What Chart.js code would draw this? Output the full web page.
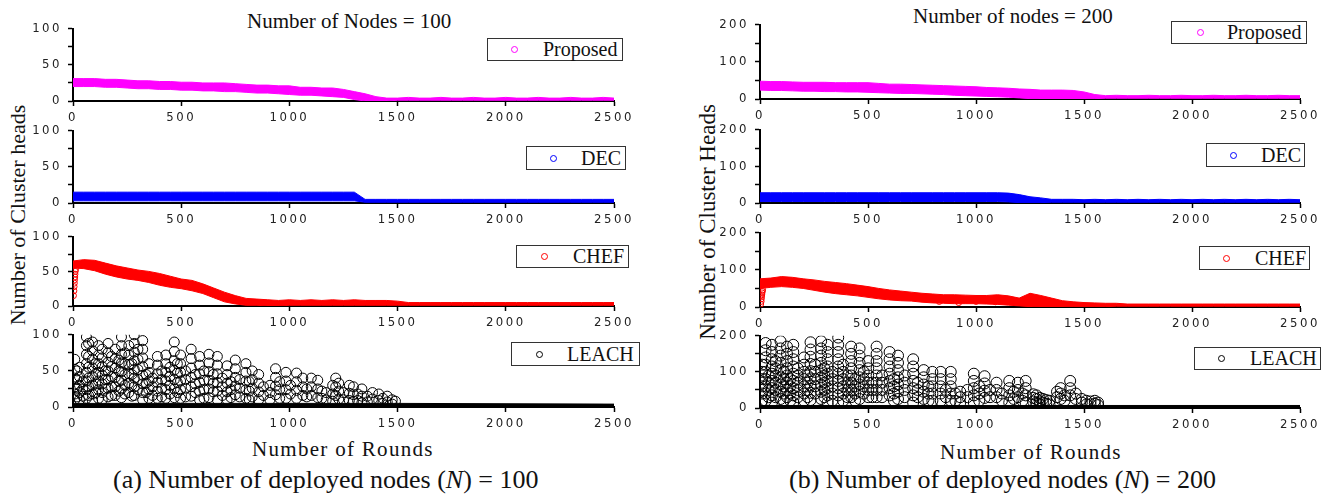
<!DOCTYPE html>
<html>
<head>
<meta charset="utf-8">
<title>Number of Cluster heads vs rounds</title>
<script src="https://cdn.jsdelivr.net/npm/chart.js@4/dist/chart.umd.min.js"></script>
<style>
  html, body { margin: 0; padding: 0; background: #fff; }
  #page { position: relative; width: 1328px; height: 501px; overflow: hidden;
          font-family: 'Liberation Serif', 'Times New Roman', serif; color: #111; }
  #page canvas { position: absolute; }
  .txt { position: absolute; line-height: 1; white-space: nowrap; }
  .ylab { position: absolute; line-height: 1; white-space: nowrap;
          transform: translate(-50%, -50%) rotate(-90deg); }
  .lg { position: absolute; box-sizing: border-box; border: 1px solid #333; background: #fff; }
  .lg .mk { position: absolute; width: 7px; height: 7px; box-sizing: border-box;
            border: 1.5px solid; border-radius: 50%; }
  .lg .lt { position: absolute; font-size: 20px; line-height: 1; white-space: nowrap; }
</style>
</head>
<body>
<div id="page">
  <div class="txt" style="left:247px;top:11px;font-size:21px">Number of Nodes = 100</div>
  <div class="txt" style="left:913px;top:6px;font-size:21px">Number of nodes = 200</div>

  <div class="ylab" style="left:17.6px;top:215px;font-size:22px">Number of Cluster heads</div>
  <div class="ylab" style="left:707px;top:222px;font-size:23px">Number of Cluster Heads</div>

  <div class="txt" style="left:252px;top:439px;font-size:21px;letter-spacing:1.3px">Number of Rounds</div>
  <div class="txt" style="left:940px;top:442px;font-size:21px;letter-spacing:1.3px">Number of Rounds</div>

  <div class="txt" style="left:113px;top:467px;font-size:26px">(a) Number of deployed nodes (<i>N</i>) = 100</div>
  <div class="txt" style="left:789px;top:467px;font-size:26px">(b) Number of deployed nodes (<i>N</i>) = 200</div>
</div>

<script>
/* ── DATA ─────────────────────────────────────────────── */
// band samples every 50 rounds (0 … 2500)
const rounds = [
  0, 50, 100, 150, 200, 250, 300, 350, 400, 450,
  500, 550, 600, 650, 700, 750, 800, 850, 900, 950,
  1000, 1050, 1100, 1150, 1200, 1250, 1300, 1350, 1400, 1450,
  1500, 1550, 1600, 1650, 1700, 1750, 1800, 1850, 1900, 1950,
  2000, 2050, 2100, 2150, 2200, 2250, 2300, 2350, 2400, 2450,
  2500
];

// N = 100
const prop100Hi = [
  31, 31, 31, 30, 30, 29, 28, 28, 27, 27,
  26, 26, 25, 25, 25, 24, 23, 22, 22, 21,
  21, 19, 19, 18, 18, 16, 13, 10, 6, 4,
  4, 5, 4, 4, 5, 4, 4, 5, 4, 4,
  5, 4, 4, 5, 4, 4, 5, 4, 4, 5,
  4
];
const prop100Lo = [
  20, 20, 20, 19, 19, 18, 17, 17, 16, 16,
  15, 15, 14, 14, 13, 13, 12, 11, 11, 10,
  9, 8, 8, 7, 6, 5, 2, 0, 0, 0,
  1, 1, 1, 1, 1, 1, 1, 1, 1, 1,
  1, 1, 1, 1, 1, 1, 1, 1, 1, 1,
  1
];
const dec100Hi = [
  15, 15, 15, 15, 15, 15, 15, 15, 15, 15,
  15, 15, 15, 15, 15, 15, 15, 15, 15, 15,
  15, 15, 15, 15, 15, 15, 15, 5, 5, 5,
  5, 5, 5, 5, 5, 5, 5, 5, 5, 5,
  5, 5, 5, 5, 5, 5, 5, 5, 5, 5,
  5
];
const dec100Lo = [
  3, 3, 3, 3, 3, 3, 3, 3, 3, 3,
  3, 3, 3, 3, 3, 3, 3, 3, 3, 3,
  3, 3, 3, 3, 3, 3, 3, 1, 1, 1,
  1, 1, 1, 1, 1, 1, 1, 1, 1, 1,
  1, 1, 1, 1, 1, 1, 1, 1, 1, 1,
  1
];
const chef100Hi = [
  65, 67, 66, 62, 58, 55, 52, 50, 47, 43,
  39, 37, 32, 26, 20, 15, 11, 10, 9, 8,
  9, 8, 9, 8, 9, 8, 9, 8, 8, 8,
  7, 5, 5, 5, 5, 5, 5, 5, 5, 5,
  5, 5, 5, 5, 5, 5, 5, 5, 5, 5,
  5
];
const chef100Lo = [
  55, 54, 51, 46, 42, 39, 37, 34, 30, 27,
  25, 22, 18, 12, 6, 3, 1, 1, 0, 0,
  1, 1, 1, 1, 1, 1, 1, 1, 1, 1,
  1, 1, 1, 1, 1, 1, 1, 1, 1, 1,
  1, 1, 1, 1, 1, 1, 1, 1, 1, 1,
  1
];
// start-up ramp of CHEF (single symbols)
const chef100RampX = [2, 4, 5, 6, 7, 8, 9, 10, 12];
const chef100RampY = [15, 22, 28, 33, 38, 42, 46, 50, 53];
// dense LEACH floor
const leach100BandX  = [0, 1500, 2500];
const leach100BandHi = [5, 5, 4];
const leach100BandLo = [0, 0, 0];
// LEACH symbols: [round, values...]
const leach100Cols = [
  [8, 66, 52, 40, 28, 18, 10], [18, 50, 38, 26, 14], [30, 55, 42, 30, 20, 10], [45, 35, 25, 15],
  [62, 97, 85, 73, 60, 48, 36, 24, 12], [72, 88, 70, 55, 40, 28, 16],
  [90, 90, 78, 66, 54, 42, 30, 18, 8], [105, 60, 45, 32, 20],
  [118, 85, 72, 60, 48, 36, 24, 12], [135, 80, 68, 56, 44, 32, 20, 10], [150, 50, 38, 25],
  [162, 88, 75, 62, 50, 38, 26, 14], [178, 70, 56, 42, 28, 16], [195, 80, 67, 54, 41, 28, 16],
  [212, 65, 50, 36, 22], [224, 97, 85, 73, 61, 49, 37, 25, 13], [240, 75, 60, 45, 30, 18],
  [258, 85, 72, 59, 46, 33, 20], [272, 60, 45, 30, 15], [283, 100, 88, 76, 64, 52, 40, 28, 16],
  [300, 80, 66, 52, 38, 24], [322, 92, 80, 68, 56, 44, 32, 20, 10], [338, 45, 33, 20],
  [351, 60, 48, 36, 24, 12], [368, 40, 28, 16], [390, 70, 58, 46, 34, 22, 12], [410, 50, 38, 26, 14],
  [429, 72, 60, 48, 36, 24, 12], [448, 55, 42, 30, 18], [468, 90, 77, 64, 51, 38, 25, 13],
  [482, 60, 47, 34, 20], [497, 72, 60, 48, 36, 24, 12], [520, 50, 38, 26, 14],
  [546, 80, 67, 54, 41, 28, 15], [565, 45, 32, 20], [585, 70, 58, 46, 34, 22, 10],
  [605, 50, 37, 24, 12], [628, 73, 61, 49, 37, 25, 13], [648, 45, 33, 21],
  [667, 70, 58, 46, 34, 22, 10], [690, 40, 28, 16], [712, 57, 45, 33, 21, 10], [730, 35, 24, 13],
  [750, 65, 53, 41, 29, 17], [770, 38, 26, 14], [799, 60, 48, 36, 24, 12], [815, 35, 22, 10],
  [828, 50, 38, 26, 14], [858, 45, 33, 21, 10], [880, 28, 16], [910, 30, 20, 10],
  [936, 53, 41, 29, 17], [955, 35, 24, 12], [984, 48, 36, 24, 12], [1005, 30, 18],
  [1033, 47, 35, 23, 12], [1062, 40, 28, 16], [1080, 25, 14], [1101, 40, 28, 16],
  [1131, 37, 25, 13], [1150, 22, 12], [1170, 20, 10], [1200, 30, 18, 8], [1214, 40, 28, 16],
  [1228, 33, 22, 11], [1250, 20, 10], [1277, 30, 19, 9], [1296, 28, 17, 8], [1315, 18, 9],
  [1335, 25, 15, 6], [1360, 15, 7], [1384, 20, 11], [1413, 18, 9], [1432, 12, 5],
  [1452, 15, 7], [1475, 10, 4], [1490, 8]
];

// N = 200
const prop200Hi = [
  48, 47, 47, 46, 45, 45, 45, 44, 44, 44,
  44, 42, 40, 40, 39, 38, 37, 36, 35, 34,
  33, 31, 30, 29, 27, 26, 24, 24, 24, 23,
  19, 12, 9, 10, 9, 9, 10, 9, 9, 10,
  9, 9, 10, 9, 9, 10, 9, 9, 10, 9,
  9
];
const prop200Lo = [
  24, 23, 23, 22, 21, 21, 20, 20, 19, 19,
  18, 17, 16, 15, 15, 14, 13, 12, 10, 9,
  8, 7, 6, 5, 3, 1, 0, 0, 0, 0,
  0, 1, 2, 2, 2, 2, 2, 2, 2, 2,
  2, 2, 2, 2, 2, 2, 2, 2, 2, 2,
  2
];
const dec200Hi = [
  28, 28, 28, 28, 28, 28, 28, 28, 28, 28,
  28, 28, 28, 28, 28, 28, 28, 28, 28, 28,
  28, 28, 28, 27, 23, 17, 14, 10, 10, 10,
  9, 10, 9, 10, 9, 10, 9, 10, 9, 10,
  9, 10, 9, 10, 9, 10, 9, 10, 9, 10,
  9
];
const dec200Lo = [
  4, 4, 4, 4, 4, 4, 4, 4, 4, 4,
  4, 4, 4, 4, 4, 4, 4, 4, 4, 4,
  4, 4, 4, 3, 1, 1, 1, 2, 2, 2,
  2, 2, 2, 2, 2, 2, 2, 2, 2, 2,
  2, 2, 2, 2, 2, 2, 2, 2, 2, 2,
  2
];
const chef200Hi = [
  76, 78, 82, 80, 76, 73, 69, 66, 63, 59,
  55, 50, 46, 43, 40, 37, 35, 33, 33, 32,
  31, 31, 33, 30, 24, 37, 31, 24, 17, 14,
  12, 11, 10, 10, 8, 8, 8, 8, 8, 8,
  8, 8, 8, 8, 8, 8, 8, 8, 8, 8,
  8
];
const chef200Lo = [
  50, 53, 55, 53, 50, 45, 40, 36, 33, 30,
  26, 22, 19, 17, 16, 13, 11, 10, 9, 9,
  9, 8, 7, 5, 3, 1, 0, 0, 0, 1,
  1, 1, 1, 2, 2, 2, 2, 2, 2, 2,
  2, 2, 2, 2, 2, 2, 2, 2, 2, 2,
  2
];
const chef200RampX = [3, 5, 6, 7, 8, 9, 10, 12, 830, 920, 1000, 1090, 1250];
const chef200RampY = [8, 15, 22, 28, 33, 38, 42, 46, 15, 12, 15, 14, 8];
const leach200BandX  = [0, 1570, 2500];
const leach200BandHi = [7, 7, 7];
const leach200BandLo = [0, 0, 0];
const leach200Cols = [
  [10, 120, 100, 80, 60, 40, 20], [26, 180, 160, 140, 120, 100, 80, 60, 40, 20], [40, 90, 70, 50, 30],
  [55, 175, 155, 135, 115, 95, 75, 55, 35, 15], [72, 130, 110, 90, 70, 50, 30],
  [95, 185, 165, 145, 125, 105, 85, 65, 45, 25], [110, 100, 80, 60, 40, 20],
  [125, 170, 150, 130, 110, 90, 70, 50, 30], [140, 80, 60, 40, 20],
  [154, 175, 155, 135, 115, 95, 75, 55, 35, 15], [175, 110, 90, 70, 50, 30],
  [204, 140, 120, 100, 80, 60, 40, 20], [220, 90, 70, 50, 30],
  [234, 182, 162, 142, 122, 102, 82, 62, 42, 22], [255, 120, 100, 80, 60, 40],
  [283, 185, 165, 145, 125, 105, 85, 65, 45, 25], [298, 110, 90, 70, 50, 30],
  [313, 175, 155, 135, 115, 95, 75, 55, 35, 15], [335, 100, 80, 60, 40, 20],
  [362, 195, 175, 155, 135, 115, 95, 75, 55, 35, 15], [385, 120, 100, 80, 60, 40, 20],
  [405, 90, 70, 50, 30], [422, 170, 150, 130, 110, 90, 70, 50, 30], [440, 80, 60, 40, 20],
  [461, 165, 145, 125, 105, 85, 65, 45, 25], [480, 100, 80, 60, 40],
  [501, 130, 110, 90, 70, 50, 30], [520, 70, 50, 30], [540, 170, 150, 130, 110, 90, 70, 50, 30],
  [565, 90, 70, 50, 30], [600, 155, 135, 115, 95, 75, 55, 35], [620, 80, 60, 40, 20],
  [639, 145, 125, 105, 85, 65, 45, 25], [670, 90, 70, 50, 30],
  [709, 135, 115, 95, 75, 55, 35, 15], [730, 70, 50, 30], [758, 105, 85, 65, 45, 25],
  [780, 60, 40, 20], [798, 100, 80, 60, 40, 20], [837, 100, 80, 60, 40, 20], [860, 50, 30],
  [883, 100, 80, 60, 40, 20], [905, 40, 20], [927, 45, 30, 15], [960, 50, 30],
  [990, 95, 75, 55, 35, 15], [1015, 60, 40, 20], [1040, 88, 68, 48, 28], [1065, 50, 30],
  [1095, 70, 50, 30], [1120, 40, 20], [1154, 75, 55, 35, 15], [1175, 45, 25],
  [1194, 70, 50, 30], [1215, 40, 20], [1230, 75, 55, 35, 15], [1265, 38, 28, 18],
  [1280, 35, 25, 15], [1295, 28, 18, 10], [1310, 25, 15], [1325, 22, 12], [1340, 20, 10],
  [1375, 45, 30], [1392, 55, 40, 25], [1410, 35, 20], [1436, 75, 55, 35], [1462, 40, 25],
  [1490, 25, 15], [1511, 20, 10], [1530, 18, 10], [1550, 20, 12], [1565, 15, 8]
];

const xTicks = [0, 500, 1000, 1500, 2000, 2500];

/* ── COLOURS / FONTS ──────────────────────────────────── */
const C_PROP  = "#ff00ff";
const C_DEC   = "#0000ff";
const C_CHEF  = "#ff0000";
const C_LEACH = "#000000";
const TICK_FONT = "'Liberation Sans Narrow', 'DejaVu Sans Condensed', 'Arial Narrow', Arial, sans-serif";

/* ── LAYOUT (plot areas in page pixels) ───────────────── */
const panels = {
  left:  { x0: 73,  x1: 614,  rows: [[25, 101], [127, 203], [233, 306], [331, 407]], yMax: 100, yStep: 25, yLabelStep: 50 },
  right: { x0: 760, x1: 1300, rows: [[21, 99],  [126, 203], [229, 307], [332, 408]], yMax: 200, yStep: 50, yLabelStep: 100 }
};
const Y_W = 70, X_H = 26, PAD_T = 10, PAD_R = 30;

/* ── HELPERS ──────────────────────────────────────────── */
function xy(xs, ys) {
  return xs.map((x, i) => ({ x, y: ys[i] }));
}

function band(xs, lo, hi, color) {
  return [
    { data: xy(xs, lo), borderColor: color, borderWidth: 1, pointRadius: 0, fill: false },
    { data: xy(xs, hi), borderColor: color, borderWidth: 1, pointRadius: 0, fill: "-1", backgroundColor: color }
  ];
}

function dots(points, color, r) {
  return {
    data: points, showLine: false, pointRadius: r, pointBorderWidth: 1,
    pointBorderColor: color, pointBackgroundColor: "rgba(0,0,0,0)"
  };
}

function colPoints(cols) {
  const pts = [];
  cols.forEach(c => c.slice(1).forEach(v => pts.push({ x: c[0], y: v })));
  return pts;
}

// canvas text letter spacing (the tick numerals are spaced out)
const spacing = {
  id: "spacing",
  beforeDraw(chart) { chart.ctx.letterSpacing = "2.5px"; }
};

function makeChart(panel, row, datasets) {
  const [top, bottom] = panel.rows[row];
  const cx = panel.x0 - Y_W;
  const cy = top - PAD_T;
  const cw = panel.x1 + PAD_R - cx;
  const ch = bottom + X_H - cy;

  const cv = document.createElement("canvas");
  cv.width = cw; cv.height = ch;
  cv.style.left = cx + "px"; cv.style.top = cy + "px";
  cv.style.width = cw + "px"; cv.style.height = ch + "px";
  document.getElementById("page").appendChild(cv);

  const tickStyle = { color: "#222", font: { family: TICK_FONT, size: 13 } };
  return new Chart(cv.getContext("2d"), {
    type: "line",
    data: { datasets },
    plugins: [spacing],
    options: {
      responsive: false,
      animation: false,
      events: [],
      layout: { autoPadding: false, padding: { top: PAD_T, right: PAD_R, left: 0, bottom: 0 } },
      elements: { line: { tension: 0 } },
      plugins: { legend: { display: false }, tooltip: { enabled: false }, title: { display: false } },
      scales: {
        x: {
          type: "linear", min: 0, max: 2500,
          afterBuildTicks: s => { s.ticks = xTicks.map(v => ({ value: v })); },
          afterFit: s => { s.height = X_H; },
          border: { display: true, color: "#000", width: 2 },
          grid: { drawOnChartArea: false, drawTicks: true, tickLength: 5, color: "#000", tickWidth: 1.5 },
          ticks: { ...tickStyle, padding: 4, maxRotation: 0, autoSkip: false, callback: v => String(v) }
        },
        y: {
          min: 0, max: panel.yMax,
          afterFit: s => { s.width = Y_W; },
          border: { display: true, color: "#000", width: 2 },
          grid: { drawOnChartArea: false, drawTicks: true, tickLength: 5, color: "#000", tickWidth: 1.5 },
          ticks: {
            ...tickStyle, padding: 6, stepSize: panel.yStep, autoSkip: false,
            callback: v => (v % panel.yLabelStep === 0 ? String(v) : "")
          }
        }
      }
    }
  });
}

function addLegend(x1, y1, x2, y2, mx, tx, label, color) {
  const box = document.createElement("div");
  box.className = "lg";
  Object.assign(box.style, { left: x1 + "px", top: y1 + "px", width: (x2 - x1) + "px", height: (y2 - y1) + "px" });
  const mid = (y2 - y1) / 2;
  box.innerHTML =
    `<span class="mk" style="left:${mx - x1 - 4.5}px;top:${mid - 4.5}px;border-color:${color}"></span>` +
    `<span class="lt" style="left:${tx - x1 - 1}px;top:${(y2 - 5 - y1) - 16.75 - 1}px">${label}</span>`;
  document.getElementById("page").appendChild(box);
}

/* ── BUILD ────────────────────────────────────────────── */
const L = panels.left, R = panels.right;

makeChart(L, 0, band(rounds, prop100Lo, prop100Hi, C_PROP));
makeChart(L, 1, band(rounds, dec100Lo, dec100Hi, C_DEC));
makeChart(L, 2, [...band(rounds, chef100Lo, chef100Hi, C_CHEF), dots(xy(chef100RampX, chef100RampY), C_CHEF, 3)]);
makeChart(L, 3, [...band(leach100BandX, leach100BandLo, leach100BandHi, C_LEACH), dots(colPoints(leach100Cols), C_LEACH, 5)]);

makeChart(R, 0, band(rounds, prop200Lo, prop200Hi, C_PROP));
makeChart(R, 1, band(rounds, dec200Lo, dec200Hi, C_DEC));
makeChart(R, 2, [...band(rounds, chef200Lo, chef200Hi, C_CHEF), dots(xy(chef200RampX, chef200RampY), C_CHEF, 3)]);
makeChart(R, 3, [...band(leach200BandX, leach200BandLo, leach200BandHi, C_LEACH), dots(colPoints(leach200Cols), C_LEACH, 5.5)]);

addLegend(487, 38, 623, 61, 514, 543, "Proposed", C_PROP);
addLegend(526, 146, 626, 170, 553, 581, "DEC", C_DEC);
addLegend(516, 245, 629, 268, 544, 573, "CHEF", C_CHEF);
addLegend(511, 342, 640, 366, 539, 567, "LEACH", C_LEACH);

addLegend(1171, 21, 1307, 44, 1200, 1227, "Proposed", C_PROP);
addLegend(1206, 143, 1305, 167, 1233, 1261, "DEC", C_DEC);
addLegend(1199, 246, 1310, 270, 1226, 1255, "CHEF", C_CHEF);
addLegend(1194, 347, 1321, 370, 1221, 1250, "LEACH", C_LEACH);
</script>
</body>
</html>
